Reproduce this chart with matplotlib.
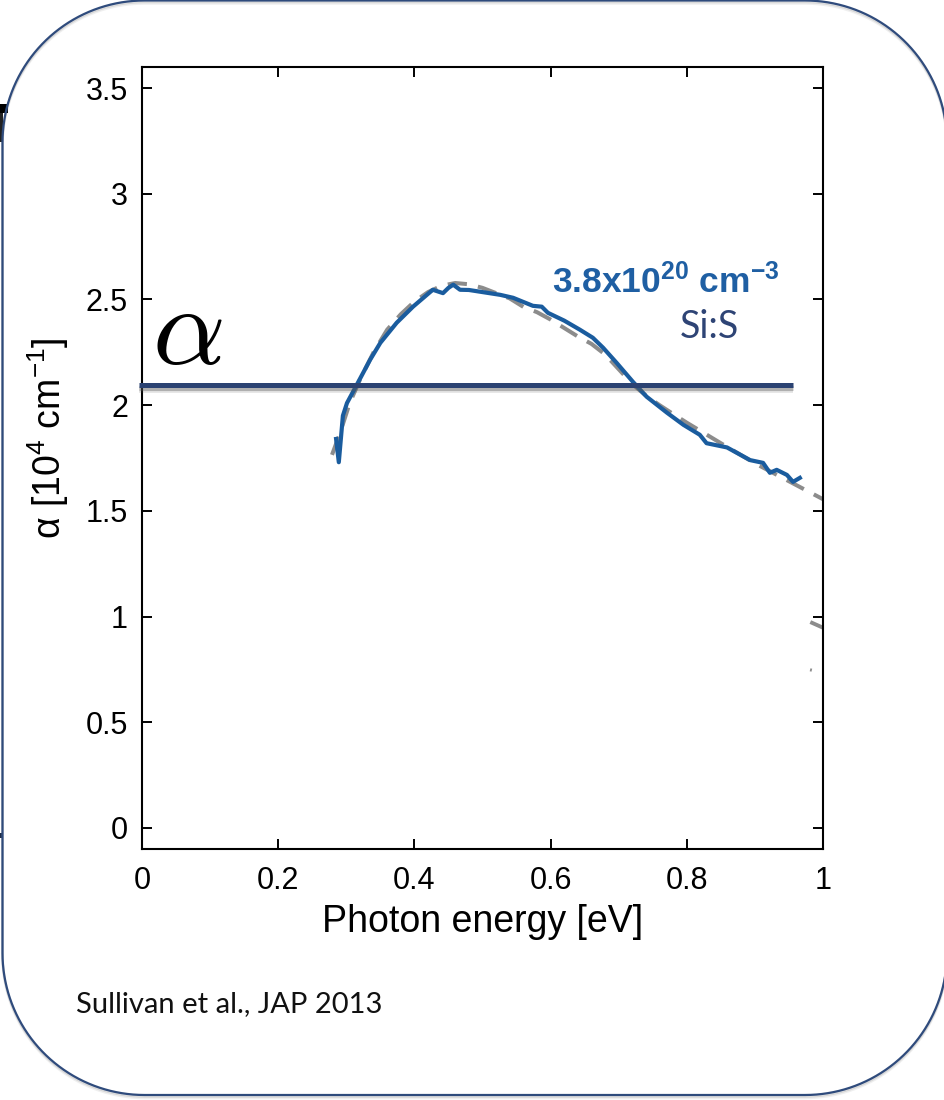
import matplotlib
matplotlib.use("Agg")
import numpy as np
import matplotlib.pyplot as plt
from matplotlib.patches import Rectangle
from matplotlib.lines import Line2D

# ---- data -------------------------------------------------------------
# measured absorption, Si:S 3.8e20 cm^-3
meas_energy = [0.285, 0.289, 0.295, 0.301, 0.316, 0.335, 0.350, 0.374, 0.398,
               0.427, 0.442, 0.450, 0.457, 0.467, 0.480, 0.496, 0.526, 0.545,
               0.574, 0.587, 0.596, 0.620, 0.643, 0.662, 0.677, 0.697, 0.721,
               0.741, 0.771, 0.795, 0.819, 0.829, 0.859, 0.893, 0.912, 0.922,
               0.932, 0.947, 0.956, 0.966]
meas_alpha = [1.84, 1.73, 1.95, 2.01, 2.10, 2.215, 2.295, 2.39, 2.466,
              2.546, 2.53, 2.555, 2.57, 2.546, 2.545, 2.537, 2.522, 2.508,
              2.47, 2.466, 2.437, 2.40, 2.357, 2.319, 2.272, 2.20, 2.11,
              2.04, 1.964, 1.907, 1.86, 1.82, 1.80, 1.74, 1.727, 1.68,
              1.694, 1.67, 1.637, 1.656]

# model fit
fit_energy = [0.279, 0.291, 0.305, 0.32, 0.34, 0.36, 0.38, 0.40, 0.42, 0.44,
              0.46, 0.48, 0.50, 0.52, 0.54, 0.56, 0.58, 0.60, 0.62, 0.64,
              0.66, 0.68, 0.70, 0.72, 0.74, 0.76, 0.78, 0.80, 0.85, 0.90,
              0.95, 1.00]
fit_alpha = [1.765, 1.87, 2.01, 2.12, 2.25, 2.357, 2.43, 2.49, 2.535, 2.565,
             2.578, 2.572, 2.555, 2.53, 2.505, 2.465, 2.44, 2.405, 2.365, 2.325,
             2.29, 2.24, 2.17, 2.10, 2.045, 2.0, 1.958, 1.917, 1.82, 1.725,
             1.64, 1.555]

# tails of further fit curves entering at the right edge
tail1_energy = [0.984, 1.0]
tail1_alpha = [0.97, 0.947]
tail2_energy = [0.981, 1.0]
tail2_alpha = [0.748, 0.733]

# horizontal marker level for alpha
alpha_level = 2.095
alpha_line_x = [-0.004, 0.956]

xticks = [0, 0.2, 0.4, 0.6, 0.8, 1.0]
xticklabels = ["0", "0.2", "0.4", "0.6", "0.8", "1"]
yticks = [0, 0.5, 1.0, 1.5, 2.0, 2.5, 3.0, 3.5]
yticklabels = ["0", "0.5", "1", "1.5", "2", "2.5", "3", "3.5"]

# ---- style ------------------------------------------------------------
plt.rcParams["font.family"] = ["Liberation Sans", "DejaVu Sans"]
plt.rcParams["mathtext.fontset"] = "custom"
plt.rcParams["mathtext.rm"] = "Liberation Sans"
plt.rcParams["mathtext.it"] = "Liberation Sans:italic"
plt.rcParams["mathtext.bf"] = "Liberation Sans:bold"

W, H = 944, 1100
fig = plt.figure(figsize=(W / 100, H / 100), dpi=100)
fig.patch.set_facecolor("white")


def rounded_outline(x0, y0, x1, y1, r, n=40):
    """Closed outline (in inches) of a rectangle with circular corners."""
    xs, ys = [], []
    corners = [(x1 - r, y1 - r, 0), (x0 + r, y1 - r, 90),
               (x0 + r, y0 + r, 180), (x1 - r, y0 + r, 270)]
    for cx, cy, start in corners:
        t = np.radians(np.linspace(start, start + 90, n))
        xs.extend(cx + r * np.cos(t))
        ys.extend(cy + r * np.sin(t))
    xs.append(xs[0])
    ys.append(ys[0])
    return xs, ys


# rounded slide frame with a soft shadow underneath
fx0, fy0, fx1, fy1, fr = 0.025, 0.05, 9.47, 10.995, 1.42
for dy, a in [(0.03, 0.10), (0.015, 0.18)]:
    sx, sy = rounded_outline(fx0, fy0 - dy, fx1, fy1 - dy, fr)
    fig.add_artist(Line2D(sx, sy, transform=fig.dpi_scale_trans,
                          color="#666666", lw=1.8, alpha=a))
bx, by = rounded_outline(fx0, fy0, fx1, fy1, fr)
fig.add_artist(Line2D(bx, by, transform=fig.dpi_scale_trans,
                      color="#2F4B7C", lw=1.6))

# remnants of neighbouring slide content at the left edge
fig.add_artist(Rectangle((0.0, (H - 113) / 100), 0.075, 0.09,
                         transform=fig.dpi_scale_trans, color="black", lw=0))
fig.add_artist(Rectangle((0.0, (H - 142) / 100), 0.025, 0.29,
                         transform=fig.dpi_scale_trans, color="#222222", lw=0))
fig.add_artist(Rectangle((0.0, (H - 838) / 100), 0.02, 0.05,
                         transform=fig.dpi_scale_trans, color="#1d2c4a", lw=0))

ax = fig.add_axes([142 / W, 1 - 849 / H, 681 / W, 782 / H])
ax.set_xlim(0, 1)
ax.set_ylim(-0.1, 3.6)

ax.plot(fit_energy, fit_alpha, color="#8C8C8C", lw=2.9, ls=(0, (4.8, 2.8)),
        zorder=2)
ax.plot(tail1_energy, tail1_alpha, color="#8C8C8C", lw=2.8, zorder=2)
ax.plot(tail2_energy, tail2_alpha, color="#8C8C8C", lw=2.2,
        ls=(0, (0.6, 6.0)), zorder=2)
ax.plot(meas_energy, meas_alpha, color="#1A5C9E", lw=3.0, zorder=3,
        solid_joinstyle="round")

# marker line with drop shadow
for dy, a, lw in [(-0.022, 0.18, 4.0), (-0.012, 0.35, 3.6)]:
    ax.plot(alpha_line_x, [alpha_level + dy] * 2, color="#555555", alpha=a,
            lw=lw, solid_capstyle="butt", clip_on=False, zorder=4)
ax.plot(alpha_line_x, [alpha_level] * 2, color="#2B4272", lw=3.6,
        solid_capstyle="butt", clip_on=False, zorder=5)

ax.set_xticks(xticks)
ax.set_xticklabels(xticklabels)
ax.set_yticks(yticks)
ax.set_yticklabels(yticklabels)
ax.tick_params(direction="in", top=True, right=True, length=7, width=1.4,
               labelsize=22, pad=12)
ax.tick_params(axis="y", pad=10)
for s in ax.spines.values():
    s.set_linewidth(1.5)

ax.set_xlabel("Photon energy [eV]", fontsize=27, labelpad=6)

fig.text(48 / W, 1 - 438 / H, r"α [10$^4$ cm$^{-1}$]", rotation=90,
         fontsize=27, ha="center", va="center", math_fontfamily="custom")

# big alpha symbol
fig.text(152 / W, 1 - 364 / H, r"$\alpha$", fontsize=82, math_fontfamily="cm",
         ha="left", va="baseline", color="black")

fig.text(552 / W, 1 - 293 / H, r"$\mathbf{3.8x10^{20}\ cm^{-3}}$",
         fontsize=25.5, color="#1F5FA3", ha="left", va="baseline",
         math_fontfamily="custom")
fig.text(680 / W, 1 - 338 / H, "Si:S", fontsize=27, color="#2E4475",
         ha="left", va="baseline", family=["Lato", "DejaVu Sans"])

fig.text(76 / W, 1 - 1012 / H, "Sullivan et al., JAP 2013", fontsize=21,
         color="#111111", ha="left", va="baseline",
         family=["Lato", "DejaVu Sans"])

fig.savefig("out.png", dpi=100)
